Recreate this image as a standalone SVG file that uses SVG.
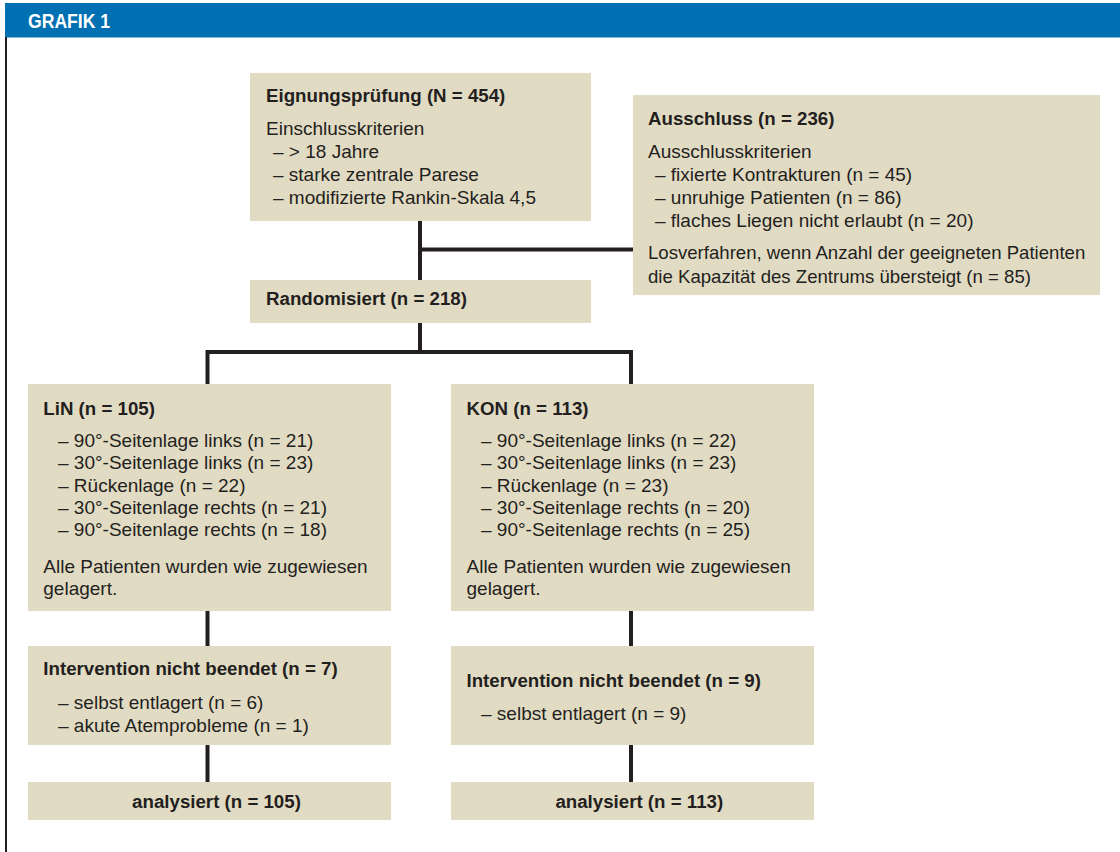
<svg xmlns="http://www.w3.org/2000/svg" width="1120" height="852" viewBox="0 0 1120 852">
<style>
.box{fill:#E2DBC4}
.t{font-family:"Liberation Sans",Arial,sans-serif;font-size:19px;fill:#231F20}
.b{font-weight:bold;font-size:18.7px}
.s{font-size:18.6px}
.c{fill:none;stroke:#231F20;stroke-width:4}
.hdr{font-family:"Liberation Sans",Arial,sans-serif;font-size:20px;font-weight:bold;fill:#FFFFFF}
</style>
<rect x="0" y="0" width="1120" height="852" fill="#FFFFFF"/>
<g id="header">
<rect x="5" y="3" width="1115" height="34.5" fill="#0070B2"/>
<text class="hdr" transform="translate(28,27.5) scale(0.88,1)">GRAFIK 1</text>
</g>
<line x1="6" y1="37" x2="6" y2="852" stroke="#231F20" stroke-width="2"/>
<g id="connectors">
<line class="c" x1="420" y1="221" x2="420" y2="280"/>
<line class="c" x1="420" y1="249.5" x2="633" y2="249.5"/>
<polyline class="c" points="207.5,384 207.5,352 631,352 631,384"/>
<line class="c" x1="420" y1="323" x2="420" y2="352"/>
<line class="c" x1="207.5" y1="611" x2="207.5" y2="646"/>
<line class="c" x1="207.5" y1="745" x2="207.5" y2="782"/>
<line class="c" x1="631" y1="611" x2="631" y2="646"/>
<line class="c" x1="631" y1="745" x2="631" y2="782"/>
</g>
<g id="eignung">
<rect class="box" x="250" y="73" width="341" height="148"/>
<text class="t b" x="266" y="102.3">Eignungsprüfung (N = 454)</text>
<text class="t" x="266" y="134.5">Einschlusskriterien</text>
<text class="t" x="273" y="157.8">– &gt; 18 Jahre</text>
<text class="t" x="273" y="181">– starke zentrale Parese</text>
<text class="t" x="273" y="204.3">– modifizierte Rankin-Skala 4,5</text>
</g>
<g id="ausschluss">
<rect class="box" x="633" y="95" width="467" height="200"/>
<text class="t b" x="648" y="124.5">Ausschluss (n = 236)</text>
<text class="t" x="648" y="157.5">Ausschlusskriterien</text>
<text class="t" x="655" y="180.8">– fixierte Kontrakturen (n = 45)</text>
<text class="t" x="655" y="204">– unruhige Patienten (n = 86)</text>
<text class="t" x="655" y="227.3">– flaches Liegen nicht erlaubt (n = 20)</text>
<text class="t s" x="648" y="259.3">Losverfahren, wenn Anzahl der geeigneten Patienten</text>
<text class="t s" x="648" y="282.7">die Kapazität des Zentrums übersteigt (n = 85)</text>
</g>
<g id="randomisiert">
<rect class="box" x="250" y="280" width="341" height="43"/>
<text class="t b" x="266" y="305">Randomisiert (n = 218)</text>
</g>
<g id="lin">
<rect class="box" x="28" y="384" width="363" height="227"/>
<text class="t b" x="43.3" y="414.5">LiN (n = 105)</text>
<text class="t" x="58" y="447">– 90°-Seitenlage links (n = 21)</text>
<text class="t" x="58" y="469.3">– 30°-Seitenlage links (n = 23)</text>
<text class="t" x="58" y="491.6">– Rückenlage (n = 22)</text>
<text class="t" x="58" y="513.9">– 30°-Seitenlage rechts (n = 21)</text>
<text class="t" x="58" y="536.2">– 90°-Seitenlage rechts (n = 18)</text>
<text class="t" x="43.3" y="572.5">Alle Patienten wurden wie zugewiesen</text>
<text class="t" x="43.3" y="594.5">gelagert.</text>
</g>
<g id="kon">
<rect class="box" x="451" y="384" width="363" height="227"/>
<text class="t b" x="466.5" y="414.5">KON (n = 113)</text>
<text class="t" x="481" y="447">– 90°-Seitenlage links (n = 22)</text>
<text class="t" x="481" y="469.3">– 30°-Seitenlage links (n = 23)</text>
<text class="t" x="481" y="491.6">– Rückenlage (n = 23)</text>
<text class="t" x="481" y="513.9">– 30°-Seitenlage rechts (n = 20)</text>
<text class="t" x="481" y="536.2">– 90°-Seitenlage rechts (n = 25)</text>
<text class="t" x="466.5" y="572.5">Alle Patienten wurden wie zugewiesen</text>
<text class="t" x="466.5" y="594.5">gelagert.</text>
</g>
<g id="lin-abbruch">
<rect class="box" x="28" y="646" width="363" height="99"/>
<text class="t b" x="43.3" y="675">Intervention nicht beendet (n = 7)</text>
<text class="t" x="58" y="709">– selbst entlagert (n = 6)</text>
<text class="t" x="58" y="731.5">– akute Atemprobleme (n = 1)</text>
</g>
<g id="kon-abbruch">
<rect class="box" x="451" y="646" width="363" height="99"/>
<text class="t b" x="466.5" y="687.3">Intervention nicht beendet (n = 9)</text>
<text class="t" x="481" y="720">– selbst entlagert (n = 9)</text>
</g>
<g id="lin-analysiert">
<rect class="box" x="28" y="782" width="363" height="38"/>
<text class="t b" x="216.5" y="808.3" text-anchor="middle">analysiert (n = 105)</text>
</g>
<g id="kon-analysiert">
<rect class="box" x="451" y="782" width="363" height="38"/>
<text class="t b" x="639.3" y="808.3" text-anchor="middle">analysiert (n = 113)</text>
</g>
</svg>
